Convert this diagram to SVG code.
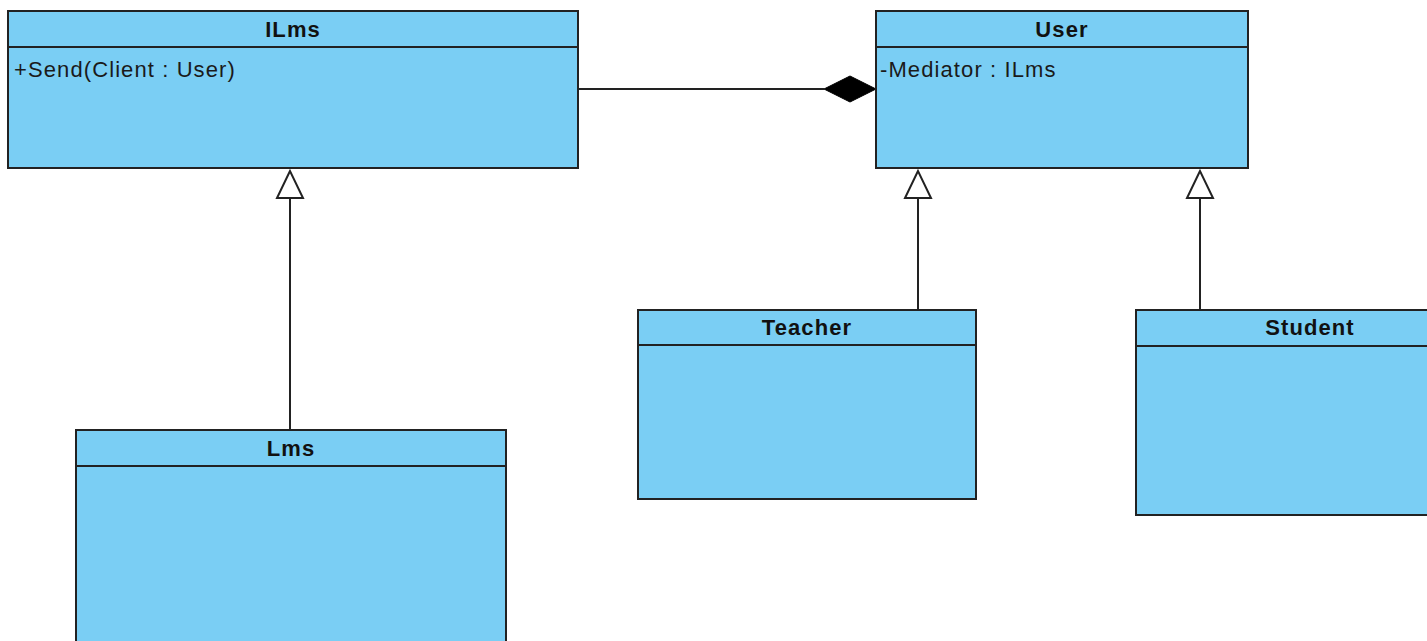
<svg xmlns="http://www.w3.org/2000/svg" width="1427" height="641" viewBox="0 0 1427 641">
  <style>
    .box { fill: #7acef4; stroke: #222; stroke-width: 2; }
    .div { stroke: #222; stroke-width: 2; }
    .title { font-family: "Liberation Sans", Arial, sans-serif; font-size: 22px; font-weight: bold; fill: #111; text-anchor: middle; letter-spacing: 1.1px; }
    .member { font-family: "Liberation Sans", Arial, sans-serif; font-size: 22px; fill: #1a1a1a; letter-spacing: 1.1px; }
    .edge { fill: none; stroke: #222; stroke-width: 2; }
    .gen { fill: #fff; stroke: #222; stroke-width: 2; }
    .comp { fill: #000; stroke: #000; stroke-width: 1; }
  </style>
  <rect width="1427" height="641" fill="#fff"/>

  <g id="connectors">
    <!-- composition: User owns an ILms mediator -->
    <line class="edge" x1="578" y1="89" x2="824" y2="89"/>
    <polygon class="comp" points="824,89 850,76 876,89 850,102"/>
    <!-- generalization: Lms realizes ILms -->
    <line class="edge" x1="290" y1="198" x2="290" y2="430"/>
    <polygon class="gen" points="290,171 277,198 303,198"/>
    <!-- generalization: Teacher extends User -->
    <line class="edge" x1="918" y1="198" x2="918" y2="310"/>
    <polygon class="gen" points="918,171 905,198 931,198"/>
    <!-- generalization: Student extends User -->
    <line class="edge" x1="1200" y1="198" x2="1200" y2="310"/>
    <polygon class="gen" points="1200,171 1187,198 1213,198"/>
  </g>

  <g id="ILms">
    <rect class="box" x="8" y="11" width="570" height="157"/>
    <line class="div" x1="8" y1="47" x2="578" y2="47"/>
    <text class="title" x="293" y="37">ILms</text>
    <text class="member" x="14" y="77">+Send(Client : User)</text>
  </g>

  <g id="User">
    <rect class="box" x="876" y="11" width="372" height="157"/>
    <line class="div" x1="876" y1="47" x2="1248" y2="47"/>
    <text class="title" x="1062" y="37">User</text>
    <text class="member" x="880" y="77">-Mediator : ILms</text>
  </g>

  <g id="Lms">
    <rect class="box" x="76" y="430" width="430" height="230"/>
    <line class="div" x1="76" y1="466" x2="506" y2="466"/>
    <text class="title" x="291" y="456">Lms</text>
  </g>

  <g id="Teacher">
    <rect class="box" x="638" y="310" width="338" height="189"/>
    <line class="div" x1="638" y1="345" x2="976" y2="345"/>
    <text class="title" x="807" y="335">Teacher</text>
  </g>

  <g id="Student">
    <rect class="box" x="1136" y="310" width="347" height="205"/>
    <line class="div" x1="1136" y1="346" x2="1483" y2="346"/>
    <text class="title" x="1310" y="335">Student</text>
  </g>
</svg>
